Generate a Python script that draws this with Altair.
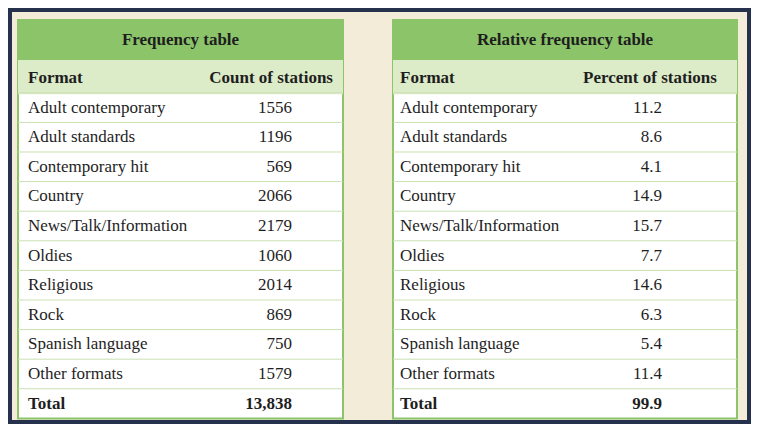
import altair as alt
import pandas as pd

formats = ["Adult contemporary", "Adult standards", "Contemporary hit", "Country",
           "News/Talk/Information", "Oldies", "Religious", "Rock",
           "Spanish language", "Other formats"]
counts = ["1556", "1196", "569", "2066", "2179", "1060", "2014", "869", "750", "1579"]
percents = ["11.2", "8.6", "4.1", "14.9", "15.7", "7.7", "14.6", "6.3", "5.4", "11.4"]
total_count = "13,838"
total_pct = "99.9"

FONT = "Liberation Sans Narrow"
GREEN = "#8cc46a"
LIGHT = "#dcebc8"
INK = "#1e1e1e"

# row index k: 0 = column header, 1..10 = formats, 11 = total
K0, K1 = -2.365, 11.69
x_scale = alt.Scale(domain=[8, 751], nice=False, zero=False)
y_scale = alt.Scale(domain=[K0, K1], reverse=True, nice=False, zero=False)

tables = [
    dict(x0=18, x1=343, title="Frequency table", lab_x=28,
         head="Count of stations", head_x=333, head_align="right",
         val_x=292, values=counts, total=total_count),
    dict(x0=393, x1=737, title="Relative frequency table", lab_x=400,
         head="Percent of stations", head_x=650, head_align="center",
         val_x=662, values=percents, total=total_pct),
]

boxes, bands, lines, texts = [], [], [], []
for t in tables:
    cx = (t["x0"] + t["x1"]) / 2
    boxes.append(dict(x=t["x0"], x2=t["x1"], y=-1.96, y2=11.5))
    bands.append(dict(x=t["x0"], x2=t["x1"], y=-1.96, y2=-0.61, c=GREEN))
    bands.append(dict(x=t["x0"], x2=t["x1"], y=-0.61, y2=0.55, c=LIGHT))
    for k in range(1, 12):
        lines.append(dict(x=t["x0"], x2=t["x1"], y=k - 0.5))
    texts.append(dict(x=cx, y=-1.3, t=t["title"], a="center", w="bold"))
    texts.append(dict(x=t["lab_x"], y=0, t="Format", a="left", w="bold"))
    texts.append(dict(x=t["head_x"], y=0, t=t["head"], a=t["head_align"], w="bold"))
    for i, (f, v) in enumerate(zip(formats, t["values"])):
        texts.append(dict(x=t["lab_x"], y=i + 1, t=f, a="left", w="normal"))
        texts.append(dict(x=t["val_x"], y=i + 1, t=v, a="right", w="normal"))
    texts.append(dict(x=t["lab_x"], y=11, t="Total", a="left", w="bold"))
    texts.append(dict(x=t["val_x"], y=11, t=t["total"], a="right", w="bold"))

X = lambda f: alt.X(f, scale=x_scale, axis=None)
Y = lambda f: alt.Y(f, scale=y_scale, axis=None)

frame = alt.Chart(pd.DataFrame([dict(x=8, x2=751, y=K0, y2=K1)])).mark_rect(
    color="#f3ecd8", stroke="#26324d", strokeWidth=8
).encode(X("x:Q"), x2="x2", y=Y("y:Q"), y2="y2")

box = alt.Chart(pd.DataFrame(boxes)).mark_rect(
    fill="white", stroke=GREEN, strokeWidth=2
).encode(X("x:Q"), x2="x2", y=Y("y:Q"), y2="y2")

band = alt.Chart(pd.DataFrame(bands)).mark_rect().encode(
    X("x:Q"), x2="x2", y=Y("y:Q"), y2="y2",
    color=alt.Color("c:N", scale=None, legend=None))

rule = alt.Chart(pd.DataFrame(lines)).mark_rule(color="#c9e0b2", strokeWidth=1).encode(
    X("x:Q"), x2="x2", y=Y("y:Q"))

# per-alignment text layers (align is not a data channel)
layers = []
for a in ["left", "center", "right"]:
    for w in ["normal", "bold"]:
        sub = [d for d in texts if d["a"] == a and d["w"] == w]
        if sub:
            layers.append(alt.Chart(pd.DataFrame(sub)).mark_text(
                font=FONT, fontSize=17, color=INK, baseline="middle",
                align=a, fontWeight=w
            ).encode(X("x:Q"), y=Y("y:Q"), text="t:N"))

chart = alt.layer(frame, box, band, rule, *layers).properties(
    width=743, height=416, padding=0, autosize="none"
).configure_view(stroke=None)

chart.save("out.html", embed_options={"renderer": "svg", "actions": False})
